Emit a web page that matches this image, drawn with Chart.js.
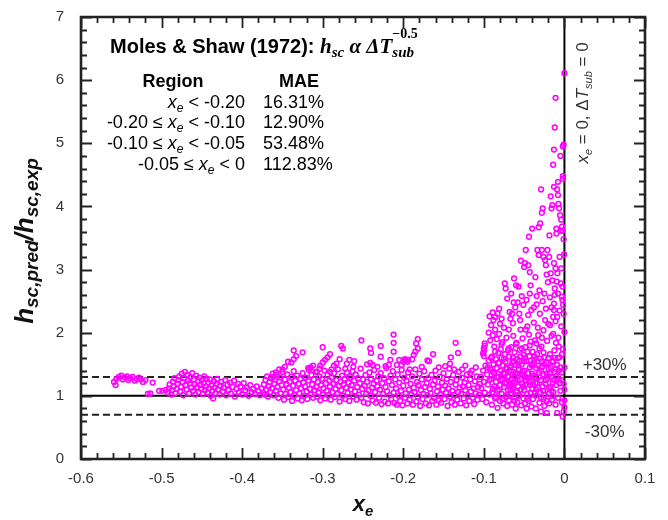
<!DOCTYPE html>
<html>
<head>
<meta charset="utf-8">
<script src="https://cdn.jsdelivr.net/npm/chart.js@4/dist/chart.umd.min.js"></script>
<style>
html,body{margin:0;padding:0;background:#fff;}
#wrap{width:668px;height:520px;}
</style>
</head>
<body>
<div id="wrap"><canvas id="c" width="668" height="520"></canvas></div>
<script>
// ---------- axis ticks ----------
const xTickValues = [-0.6, -0.5, -0.4, -0.3, -0.2, -0.1, 0, 0.1];
const yTickValues = [0, 1, 2, 3, 4, 5, 6, 7];

// ---------- MAE table ----------
const regionLow  = [null, -0.20, -0.10, -0.05];
const regionHigh = [-0.20, -0.10, -0.05, 0];
const regionMAE  = ['16.31%', '12.90%', '53.48%', '112.83%'];

// ---------- reference lines (h_pred/h_exp) ----------
const perfectRatio = 1.0;
const upperBand = 1.3;
const lowerBand = 0.7;
const saturationXe = 0;

// ---------- data points [x_e, h_pred/h_exp] ----------
const farSubcooled = [
[-0.559,1.22],[-0.557,1.17],[-0.556,1.27],[-0.553,1.30],[-0.550,1.32],[-0.548,1.26],[-0.546,1.29],[-0.543,1.31],
[-0.541,1.25],[-0.539,1.28],[-0.536,1.30],[-0.533,1.24],[-0.531,1.27],[-0.528,1.29],[-0.526,1.26],[-0.523,1.22],
[-0.520,1.25],[-0.517,1.03],[-0.514,1.04],[-0.511,1.21],[-0.503,1.08],[-0.499,1.08],[-0.495,1.09]
];
const subcooledA = [
[-0.492,1.05],[-0.491,1.12],[-0.490,1.18],[-0.488,1.02],[-0.487,1.09],[-0.486,1.22],[-0.485,1.15],[-0.484,1.28],
[-0.483,1.04],[-0.481,1.11],[-0.480,1.19],[-0.479,1.25],[-0.478,1.31],[-0.477,1.07],[-0.476,1.14],[-0.475,1.35],
[-0.474,1.22],[-0.473,1.01],[-0.472,1.28],[-0.471,1.38],[-0.470,1.17],[-0.469,1.10],[-0.468,1.33],[-0.467,1.24],
[-0.466,1.04],[-0.465,1.20],[-0.464,1.30],[-0.463,1.13],[-0.462,1.36],[-0.461,1.08],[-0.460,1.26],[-0.459,1.18],
[-0.458,1.02],[-0.457,1.32],[-0.456,1.14],[-0.455,1.23],[-0.454,1.06],[-0.453,1.29],[-0.452,1.17],[-0.451,1.11],
[-0.450,1.25],[-0.449,1.03],[-0.448,1.20],[-0.447,1.31],[-0.446,1.09],[-0.445,1.15],[-0.444,1.27],[-0.443,1.05],
[-0.442,1.21],[-0.441,1.12],[-0.440,1.26],[-0.439,1.00],[-0.438,1.17],[-0.437,1.08],[-0.436,0.96],[-0.435,1.23],
[-0.434,1.13],[-0.433,1.04],[-0.432,1.19],[-0.431,1.27],[-0.430,1.10],[-0.428,1.02],[-0.427,1.16],[-0.426,1.22],
[-0.424,1.07],[-0.423,1.13],[-0.421,1.25],[-0.420,1.01],[-0.418,1.18],[-0.417,1.09],[-0.415,1.21],[-0.414,1.04],
[-0.412,1.14],[-0.410,1.24],[-0.409,0.99],[-0.407,1.11],[-0.405,1.19],[-0.404,1.06],[-0.402,1.15],[-0.400,1.02],
[-0.398,1.20],[-0.396,1.09],[-0.394,1.13],[-0.392,1.00],[-0.390,1.17],[-0.388,1.06],[-0.386,1.11],[-0.384,1.03],
[-0.382,1.15],[-0.380,1.08],[-0.378,1.01],[-0.376,1.12],[-0.374,1.05]
];
const subcooledB = [
[-0.373,1.18],[-0.372,1.02],[-0.371,1.25],[-0.370,1.10],[-0.369,1.31],[-0.368,0.99],[-0.367,1.15],[-0.366,1.22],
[-0.365,1.06],[-0.364,1.28],[-0.363,1.12],[-0.362,1.35],[-0.361,1.01],[-0.360,1.19],[-0.359,1.26],[-0.358,1.08],
[-0.357,1.33],[-0.356,1.14],[-0.355,0.97],[-0.354,1.23],[-0.353,1.29],[-0.352,1.04],[-0.351,1.17],[-0.350,1.38],
[-0.349,1.10],[-0.348,0.94],[-0.347,1.26],[-0.346,1.03],[-0.345,1.18],[-0.344,1.34],[-0.343,0.98],[-0.342,1.13],
[-0.341,1.22],[-0.340,1.06],[-0.339,1.30],[-0.338,0.92],[-0.337,1.16],[-0.336,1.39],[-0.335,1.01],[-0.334,1.24],
[-0.333,1.09],[-0.332,1.32],[-0.331,0.96],[-0.330,1.19],[-0.329,1.04],[-0.328,1.27],[-0.327,1.12],[-0.326,0.93],
[-0.325,1.36],[-0.324,1.21],[-0.323,1.00],[-0.322,1.15],[-0.321,1.29],[-0.320,1.07],[-0.319,0.95],[-0.318,1.24],
[-0.317,1.41],[-0.316,1.11],[-0.315,1.02],[-0.314,1.33],[-0.313,1.18],[-0.312,0.97],[-0.311,1.26],[-0.310,1.09],
[-0.309,1.38],[-0.308,1.14],[-0.307,0.99],[-0.306,1.22],[-0.305,1.05],[-0.304,1.31],[-0.303,0.93],[-0.302,1.17],
[-0.301,1.27],[-0.300,1.02],[-0.299,1.12],[-0.298,1.40],[-0.297,0.96],[-0.296,1.20],[-0.295,1.08],[-0.294,1.33],
[-0.293,1.01],[-0.292,1.24],[-0.291,1.15],[-0.290,0.94],[-0.289,1.29],[-0.288,1.06],[-0.287,1.19],[-0.286,1.36],
[-0.285,0.98],[-0.284,1.11],[-0.283,1.25],[-0.282,1.03],[-0.281,1.42],[-0.280,1.16],[-0.279,0.91],[-0.278,1.22],
[-0.277,1.09],[-0.276,1.32],[-0.275,1.00],[-0.274,1.18],[-0.273,1.27],[-0.272,0.95],[-0.271,1.13],[-0.270,1.37],
[-0.269,1.05],[-0.268,1.21],[-0.267,0.92],[-0.266,1.30],[-0.265,1.10],[-0.264,1.17],[-0.263,1.39],[-0.262,0.99],
[-0.261,1.24],[-0.260,1.07],[-0.259,1.34],[-0.258,0.94],[-0.257,1.14],[-0.256,1.28],[-0.255,1.02],[-0.254,1.20],
[-0.253,1.43],[-0.252,0.97],[-0.251,1.11],[-0.250,1.26]
];
const subcooledC = [
[-0.249,0.90],[-0.248,1.16],[-0.247,1.33],[-0.246,1.04],[-0.245,1.22],[-0.244,0.88],[-0.243,1.09],[-0.242,1.37],
[-0.241,1.00],[-0.240,1.27],[-0.239,1.13],[-0.238,0.93],[-0.237,1.19],[-0.236,1.41],[-0.235,1.06],[-0.234,0.89],
[-0.233,1.24],[-0.232,1.15],[-0.231,1.31],[-0.230,0.97],[-0.229,1.10],[-0.228,1.36],[-0.227,0.87],[-0.226,1.20],
[-0.225,1.03],[-0.224,1.28],[-0.223,0.91],[-0.222,1.14],[-0.221,1.44],[-0.220,1.07],[-0.219,0.88],[-0.218,1.23],
[-0.217,1.01],[-0.216,1.32],[-0.215,0.95],[-0.214,1.17],[-0.213,1.39],[-0.212,1.05],[-0.211,0.89],[-0.210,1.26],
[-0.209,1.12],[-0.208,0.86],[-0.207,1.34],[-0.206,1.00],[-0.205,1.21],[-0.204,0.92],[-0.203,1.08],[-0.202,1.41],
[-0.201,0.85],[-0.200,1.16],[-0.199,1.29],[-0.198,0.97],[-0.197,1.04],[-0.196,1.24],[-0.195,0.88],[-0.194,1.37],
[-0.193,1.10],[-0.192,0.94],[-0.191,1.19],[-0.190,1.02],[-0.189,1.31],[-0.188,0.86],[-0.187,1.13],[-0.186,1.06],
[-0.185,1.42],[-0.184,0.91],[-0.183,1.22],[-0.182,0.99],[-0.181,1.17],[-0.180,1.35],[-0.179,0.84],[-0.178,1.09],
[-0.177,1.26],[-0.176,0.95],[-0.175,1.03],[-0.174,1.39],[-0.173,1.14],[-0.172,0.88],[-0.171,1.20],[-0.170,1.01],
[-0.169,1.28],[-0.168,0.85],[-0.167,1.11],[-0.166,1.04],[-0.165,1.33],[-0.164,0.92],[-0.163,1.18],[-0.162,0.97],
[-0.161,1.24],[-0.160,1.40],[-0.159,0.86],[-0.158,1.07],[-0.157,1.15],[-0.156,0.93],[-0.155,1.30],[-0.154,1.02],
[-0.153,0.89],[-0.152,1.21],[-0.151,1.10],[-0.150,1.36],[-0.149,0.95],[-0.148,1.16],[-0.147,1.05],[-0.146,1.27],
[-0.145,0.84],[-0.144,1.12],[-0.143,1.43],[-0.142,0.99],[-0.141,1.22],[-0.140,0.90],[-0.139,1.08],[-0.138,1.33],
[-0.137,1.01],[-0.136,0.86],[-0.135,1.18],[-0.134,1.25],[-0.133,0.94],[-0.132,1.06],[-0.131,1.38],[-0.130,1.13],
[-0.129,0.88],[-0.128,1.03],[-0.127,1.29],[-0.126,1.15],[-0.125,0.96],[-0.124,1.21],[-0.123,1.09],[-0.122,0.85],
[-0.121,1.34],[-0.120,1.00],[-0.119,1.17],[-0.118,0.92],[-0.117,1.26],[-0.116,1.07],[-0.115,1.40],[-0.114,0.97],
[-0.113,1.12],[-0.112,0.87],[-0.111,1.23],[-0.110,1.04],[-0.109,1.31],[-0.108,0.94],[-0.107,1.14],[-0.106,1.02],
[-0.105,1.19]
];
const subcooledHigh = [
[-0.361,1.30],[-0.358,1.37],[-0.354,1.42],[-0.350,1.42],[-0.347,1.46],[-0.343,1.54],[-0.339,1.53],[-0.336,1.58],
[-0.333,1.63],[-0.336,1.72],[-0.325,1.69],[-0.307,1.38],[-0.304,1.43],[-0.303,1.48],[-0.300,1.53],[-0.297,1.57],
[-0.294,1.61],[-0.291,1.66],[-0.300,1.77],[-0.291,1.38],[-0.289,1.42],[-0.286,1.48],[-0.283,1.51],[-0.279,1.58],
[-0.277,1.79],[-0.275,1.75],[-0.272,1.43],[-0.270,1.51],[-0.267,1.57],[-0.261,1.55],[-0.315,1.45],[-0.312,1.48],
[-0.318,1.44],[-0.252,1.88],[-0.245,1.50],[-0.241,1.52],[-0.241,1.75],[-0.240,1.68],[-0.238,1.49],[-0.228,1.79],
[-0.228,1.62],[-0.218,1.49],[-0.216,1.57],[-0.212,1.97],[-0.212,1.84],[-0.212,1.70],[-0.208,1.49],[-0.205,1.57],
[-0.202,1.49],[-0.200,1.54],[-0.198,1.58],[-0.197,1.56],[-0.195,1.54],[-0.194,1.57],[-0.192,1.42],[-0.189,1.58],
[-0.187,1.65],[-0.185,1.70],[-0.182,1.75],[-0.184,1.83],[-0.182,1.90],[-0.170,1.56],[-0.168,1.55],[-0.163,1.66],
[-0.142,1.51],[-0.141,1.61],[-0.137,1.42],[-0.135,1.84],[-0.132,1.68],[-0.127,1.42],[-0.117,1.36],[-0.222,1.47],
[-0.232,1.46],[-0.262,1.46],[-0.156,1.45],[-0.148,1.47],[-0.177,1.46],[-0.110,1.45],[-0.123,1.48]
];
const nearSatA = [
[-0.104,1.30],[-0.103,1.12],[-0.102,0.95],[-0.101,1.40],[-0.101,1.67],[-0.100,1.63],[-0.100,1.71],[-0.100,1.75],
[-0.099,1.79],[-0.099,1.83],[-0.100,1.22],[-0.099,1.05],[-0.098,1.48],[-0.097,0.90],[-0.096,1.34],[-0.095,1.18],
[-0.094,1.56],[-0.094,2.00],[-0.093,1.02],[-0.093,2.26],[-0.092,1.42],[-0.092,1.88],[-0.091,1.27],[-0.091,2.12],
[-0.090,0.86],[-0.090,1.62],[-0.089,1.96],[-0.089,1.11],[-0.088,1.50],[-0.088,2.20],[-0.087,1.36],[-0.087,1.78],
[-0.086,0.96],[-0.086,2.05],[-0.085,1.22],[-0.085,1.58],[-0.084,1.44],[-0.084,1.90],[-0.083,0.81],[-0.083,1.08],
[-0.083,2.30],[-0.082,1.68],[-0.082,1.30],[-0.081,1.52],[-0.081,1.98],[-0.080,0.92],[-0.080,1.17],[-0.080,2.14],
[-0.079,1.40],[-0.079,1.74],[-0.078,1.03],[-0.078,1.60],[-0.077,1.26],[-0.077,1.85],[-0.076,0.88],[-0.076,1.48],
[-0.075,2.08],[-0.075,1.14],[-0.074,1.35],[-0.074,1.66],[-0.073,0.99],[-0.073,1.54],[-0.072,1.21],[-0.072,1.92],
[-0.071,1.43],[-0.071,0.84],[-0.070,1.72],[-0.070,1.09]
];
const nearSatB = [
[-0.0695,1.31],[-0.069,0.93],[-0.0685,1.62],[-0.068,1.18],[-0.0675,1.45],[-0.067,2.22],[-0.0665,1.02],[-0.066,1.77],
[-0.0655,1.27],[-0.065,0.86],[-0.0645,1.54],[-0.064,1.12],[-0.0635,1.95],[-0.063,1.38],[-0.0625,0.98],[-0.062,1.69],
[-0.0615,1.22],[-0.061,2.40],[-0.0605,1.49],[-0.060,1.06],[-0.071,2.54],[-0.074,2.78],[-0.073,2.70],[-0.0625,2.86],
[-0.060,2.75],[-0.066,2.62],[-0.068,2.33],[-0.064,2.15],
[-0.0595,1.84],[-0.059,1.35],[-0.0585,0.90],[-0.058,1.58],[-0.0575,1.15],[-0.057,2.73],[-0.0565,1.42],[-0.056,1.01],
[-0.0555,1.73],[-0.055,1.26],[-0.0545,2.05],[-0.054,3.14],[-0.0535,0.85],[-0.053,1.50],[-0.0525,1.19],[-0.052,1.91],
[-0.0515,1.33],[-0.051,0.96],[-0.0505,1.65],[-0.050,1.09],[-0.050,3.04],[-0.049,3.10],[-0.058,2.48],[-0.056,2.30],
[-0.053,2.58],[-0.051,2.44],[-0.055,2.20],
[-0.0495,1.40],[-0.049,0.88],[-0.0485,1.77],[-0.048,3.31],[-0.0475,1.24],[-0.047,1.55],[-0.0465,1.03],[-0.046,2.10],
[-0.0455,1.36],[-0.045,3.07],[-0.0445,0.92],[-0.044,3.52],[-0.0435,1.63],[-0.043,2.96],[-0.0425,1.17],[-0.042,1.86],
[-0.0415,1.29],[-0.041,0.83],[-0.0405,1.48],[-0.040,3.65],[-0.040,1.11],[-0.041,2.36],[-0.043,2.62],[-0.047,2.52],
[-0.045,2.28],[-0.042,2.75],[-0.048,2.05],[-0.044,1.97]
];
const nearSatC = [
[-0.0395,1.70],[-0.039,0.95],[-0.0385,1.32],[-0.038,2.16],[-0.0375,1.57],[-0.037,1.05],[-0.0365,1.88],[-0.036,1.21],
[-0.0355,0.80],[-0.035,1.44],[-0.0345,2.45],[-0.034,1.66],[-0.0335,3.31],[-0.033,1.13],[-0.0325,1.96],[-0.032,3.23],
[-0.032,3.67],[-0.0315,1.37],[-0.031,0.89],[-0.030,3.73],[-0.030,1.59],[-0.0305,2.30],[-0.031,2.67],[-0.036,2.88],
[-0.0345,2.58],[-0.038,2.40],[-0.033,2.08],[-0.035,1.83],
[-0.0295,1.25],[-0.029,0.97],[-0.029,4.27],[-0.0285,1.78],[-0.028,3.31],[-0.028,3.90],[-0.0275,1.46],[-0.027,3.97],
[-0.0265,1.08],[-0.026,3.20],[-0.026,2.04],[-0.0255,1.34],[-0.025,0.84],[-0.025,2.62],[-0.0245,1.61],[-0.024,3.15],
[-0.0235,1.19],[-0.023,3.07],[-0.023,2.38],[-0.0225,1.52],[-0.022,0.92],[-0.0215,1.87],[-0.021,3.31],[-0.021,1.28],
[-0.0205,2.80],[-0.020,1.03],[-0.027,2.50],[-0.024,2.20],[-0.022,2.92],[-0.028,1.92],[-0.026,1.69],[-0.020,2.14]
];
const nearSatD = [
[-0.0195,1.43],[-0.019,3.20],[-0.019,0.88],[-0.0186,3.54],[-0.018,1.66],[-0.018,2.56],[-0.0175,1.14],[-0.017,4.16],
[-0.017,2.94],[-0.0165,1.31],[-0.016,3.97],[-0.016,1.95],[-0.0155,0.94],[-0.015,4.02],[-0.015,2.83],[-0.015,1.54],
[-0.0145,1.21],[-0.014,4.66],[-0.014,2.25],[-0.0135,1.06],[-0.013,4.31],[-0.013,4.90],[-0.013,3.10],[-0.013,2.46],
[-0.013,2.36],[-0.0125,1.72],[-0.012,5.25],[-0.012,2.70],[-0.012,2.60],[-0.012,1.38],[-0.011,5.72],[-0.011,3.02],
[-0.011,0.86],[-0.0105,1.84],[-0.010,3.65],[-0.010,3.57],[-0.010,1.17],[-0.018,2.12],[-0.016,2.40],[-0.014,1.98],
[-0.011,2.18],
[-0.0095,2.81],[-0.009,4.27],[-0.009,1.49],[-0.0087,2.94],[-0.008,4.39],[-0.008,4.18],[-0.008,0.97],[-0.0075,4.04],
[-0.0075,1.92],[-0.007,1.26],[-0.0066,3.97],[-0.006,2.35],[-0.006,1.61],[-0.0054,3.86],[-0.005,4.80],[-0.005,1.08],
[-0.0046,3.61],[-0.0046,2.78],[-0.004,3.79],[-0.004,2.10],[-0.004,1.37],[-0.003,3.68],[-0.003,2.57],[-0.003,0.90],
[-0.0025,3.62],[-0.0025,2.73],[-0.0025,2.52],[-0.002,4.48],[-0.002,4.44],[-0.002,4.95],[-0.002,1.74],[-0.0017,2.44],
[-0.001,4.98],[-0.001,1.19],[-0.0004,3.24],[0.000,6.11],[0.000,2.01],[0.000,1.45],[0.000,1.10],[0.000,0.93],
[0.000,0.82],[-0.001,0.75],[-0.002,0.67],[-0.008,2.62],[-0.006,3.20],[-0.004,3.02],[-0.007,1.78],[-0.009,2.25],
[-0.001,2.30],[-0.001,3.48]
];
const nearSatCore = [
[-0.068,1.40],[-0.066,1.15],[-0.064,1.60],[-0.062,1.30],[-0.059,1.08],[-0.057,1.48],[-0.055,1.62],[-0.054,1.10],
[-0.052,1.39],[-0.050,1.55],[-0.048,1.18],[-0.046,1.70],[-0.045,1.28],[-0.043,1.45],[-0.042,1.05],[-0.040,1.35],
[-0.038,1.52],[-0.037,1.30],[-0.034,1.20],[-0.033,1.48],[-0.031,1.75],[-0.029,1.40],[-0.027,1.15],[-0.025,1.50],
[-0.024,1.02],[-0.022,1.35],[-0.020,1.60],[-0.019,1.12],[-0.017,1.45],[-0.016,1.08],[-0.014,1.55],[-0.013,1.25],
[-0.011,1.42],[-0.010,1.30],[-0.008,1.60],[-0.006,1.20],[-0.005,1.45],[-0.003,1.66],[-0.029,0.75],[-0.022,0.73],
[-0.009,0.73],[-0.0605,0.80],[-0.047,0.80],[-0.036,1.00],[-0.026,0.95],
[-0.095,1.45],[-0.093,1.25],[-0.091,1.60],[-0.090,1.05],[-0.089,1.38],[-0.087,1.15],[-0.086,1.70],[-0.085,0.98],
[-0.084,1.30],[-0.082,1.52],[-0.081,1.10],[-0.079,1.25],[-0.078,1.82],[-0.077,0.95],[-0.076,1.36],[-0.075,1.58],
[-0.074,1.20],[-0.072,1.45],[-0.071,1.02],[-0.070,1.30],[-0.069,1.75],[-0.067,1.10],[-0.066,1.48],[-0.065,1.20],
[-0.063,1.55],[-0.062,0.92],[-0.061,1.36],[-0.060,1.82],[-0.058,1.25],[-0.057,1.00],[-0.056,1.55],[-0.054,1.35],
[-0.053,1.75],[-0.051,1.15],[-0.049,1.60],[-0.048,1.30],[-0.046,0.95],[-0.044,1.22],[-0.043,1.80],[-0.041,1.50],
[-0.039,1.18],[-0.037,1.62],[-0.035,1.10],[-0.032,1.30],[-0.030,1.05],[-0.028,1.55],[-0.023,1.25],[-0.018,1.35],
[-0.015,1.00],[-0.012,1.60],[-0.007,1.40],[-0.004,1.25],
[-0.089,2.32],[-0.086,2.25],[-0.081,2.38],[-0.078,2.22],[-0.069,2.05],[-0.065,2.30],[-0.063,2.48]
];

const allGroups = [farSubcooled, subcooledA, subcooledB, subcooledC, subcooledHigh, nearSatA, nearSatB, nearSatC, nearSatD, nearSatCore];
const scatterData = allGroups.flat().map(([x, y]) => ({x, y}));

const SANS = '"Liberation Sans", Arial, Helvetica, sans-serif';
const SERIF = '"Liberation Serif", "Times New Roman", serif';

function layoutParts(ctx, parts) {
  let x = 0, prevStart = 0;
  const items = [];
  for (const p of parts) {
    ctx.font = p.f;
    const w = ctx.measureText(p.t).width;
    const sx = p.stack ? prevStart : x;
    items.push({t: p.t, f: p.f, dy: p.dy || 0, x: sx});
    x = p.stack ? Math.max(x, sx + w) : sx + w;
    prevStart = sx;
  }
  return {items, width: x};
}
function drawRich(ctx, x0, y0, parts, align, color) {
  const L = layoutParts(ctx, parts);
  const off = align === 'right' ? -L.width : (align === 'center' ? -L.width / 2 : 0);
  ctx.fillStyle = color;
  ctx.textAlign = 'left';
  ctx.textBaseline = 'alphabetic';
  for (const it of L.items) {
    ctx.font = it.f;
    ctx.fillText(it.t, x0 + off + it.x, y0 + it.dy);
  }
}
function fmtBound(v) { return v === 0 ? '0' : v.toFixed(2); }

const framePlugin = {
  id: 'frame',
  afterDraw(chart) {
    const ctx = chart.ctx;
    const a = chart.chartArea;
    const xs = chart.scales.x, ys = chart.scales.y;
    ctx.save();
    ctx.setLineDash([]);
    ctx.globalAlpha = 1;
    ctx.globalCompositeOperation = 'source-over';
    ctx.strokeStyle = '#222222';
    ctx.lineWidth = 1.8;
    ctx.beginPath();
    for (let i = 0; i <= 35; i++) {
      const px = Math.round(xs.getPixelForValue(-0.6 + i * 0.02)) + 0.5;
      const len = (i % 5 === 0) ? 11 : 6;
      ctx.moveTo(px, a.bottom); ctx.lineTo(px, a.bottom - len);
      ctx.moveTo(px, a.top); ctx.lineTo(px, a.top + len);
    }
    for (let i = 0; i <= 35; i++) {
      const py = Math.round(ys.getPixelForValue(i * 0.2)) + 0.5;
      const len = (i % 5 === 0) ? 11 : 6;
      ctx.moveTo(a.left, py); ctx.lineTo(a.left + len, py);
      ctx.moveTo(a.right, py); ctx.lineTo(a.right - len, py);
    }
    ctx.stroke();
    ctx.beginPath();
    ctx.lineWidth = 2.6;
    ctx.rect(a.left, a.top, a.right - a.left, a.bottom - a.top);
    ctx.stroke();
    ctx.restore();
  }
};

const textPlugin = {
  id: 'texts',
  afterDraw(chart) {
    const ctx = chart.ctx;
    const a = chart.chartArea;
    const xs = chart.scales.x, ys = chart.scales.y;
    ctx.save();
    // title
    drawRich(ctx, a.left + 29, a.top + 36, [
      {t: 'Moles & Shaw (1972): ', f: 'bold 20px ' + SANS},
      {t: 'h', f: 'italic bold 21px ' + SERIF},
      {t: 'sc', f: 'italic bold 15px ' + SERIF, dy: 4},
      {t: ' α Δ', f: 'italic bold 21px ' + SERIF},
      {t: 'T', f: 'italic bold 21px ' + SERIF},
      {t: 'sub', f: 'italic bold 15px ' + SERIF, dy: 4},
      {t: '−0.5', f: 'bold 14px ' + SERIF, dy: -15, stack: true}
    ], 'left', '#000');

    // table
    const hdrY = a.top + 70;
    drawRich(ctx, a.left + 92, hdrY, [{t: 'Region', f: 'bold 18px ' + SANS}], 'center', '#000');
    drawRich(ctx, a.left + 218, hdrY, [{t: 'MAE', f: 'bold 18px ' + SANS}], 'center', '#000');
    const f18 = '18px ' + SANS, i18 = 'italic 18px ' + SANS, i12 = 'italic 12px ' + SANS;
    for (let i = 0; i < regionMAE.length; i++) {
      const by = hdrY + 20.7 * (i + 1);
      const parts = [];
      if (regionLow[i] !== null) parts.push({t: fmtBound(regionLow[i]) + ' ≤ ', f: f18});
      parts.push({t: 'x', f: i18});
      parts.push({t: 'e', f: i12, dy: 4});
      parts.push({t: ' < ' + fmtBound(regionHigh[i]), f: f18});
      drawRich(ctx, a.left + 164, by, parts, 'right', '#000');
      drawRich(ctx, a.left + 182, by, [{t: regionMAE[i], f: f18}], 'left', '#000');
    }

    // band labels
    const bx = xs.getPixelForValue(0.05);
    drawRich(ctx, bx, ys.getPixelForValue(upperBand) - 7, [{t: '+30%', f: '17px ' + SANS}], 'center', '#333');
    drawRich(ctx, bx, ys.getPixelForValue(lowerBand) + 22, [{t: '-30%', f: '17px ' + SANS}], 'center', '#333');

    // vertical annotation at x_e = 0
    ctx.save();
    ctx.translate(xs.getPixelForValue(saturationXe) + 24, a.top + 86);
    ctx.rotate(-Math.PI / 2);
    drawRich(ctx, 0, 0, [
      {t: 'x', f: 'italic 17px ' + SANS},
      {t: 'e', f: 'italic 11px ' + SANS, dy: 4},
      {t: ' = 0, Δ', f: '17px ' + SANS},
      {t: 'T', f: 'italic 17px ' + SANS},
      {t: 'sub', f: 'italic 11px ' + SANS, dy: 4},
      {t: ' = 0', f: '17px ' + SANS}
    ], 'center', '#333');
    ctx.restore();

    // axis titles
    drawRich(ctx, (a.left + a.right) / 2, a.bottom + 52, [
      {t: 'x', f: 'italic bold 22px ' + SANS},
      {t: 'e', f: 'italic bold 15px ' + SANS, dy: 5}
    ], 'center', '#111');
    ctx.save();
    ctx.translate(33, (a.top + a.bottom) / 2 + 3);
    ctx.rotate(-Math.PI / 2);
    drawRich(ctx, 0, 0, [
      {t: 'h', f: 'italic bold 26px ' + SANS},
      {t: 'sc,pred', f: 'italic bold 19px ' + SANS, dy: 5},
      {t: '/', f: 'italic bold 26px ' + SANS},
      {t: 'h', f: 'italic bold 26px ' + SANS},
      {t: 'sc,exp', f: 'italic bold 19px ' + SANS, dy: 5}
    ], 'center', '#111');
    ctx.restore();
    ctx.restore();
  }
};

new Chart(document.getElementById('c'), {
  type: 'scatter',
  data: {
    datasets: [
      {
        data: scatterData,
        pointStyle: 'circle',
        pointRadius: 2.4,
        pointBorderWidth: 1.5,
        borderColor: '#ff00ff',
        backgroundColor: 'rgba(255,255,255,0)',
        order: 0
      },
      {
        data: [{x: -0.6, y: perfectRatio}, {x: 0.1, y: perfectRatio}],
        showLine: true, pointRadius: 0, borderColor: '#000', borderWidth: 2, order: 1
      },
      {
        data: [{x: -0.6, y: upperBand}, {x: 0.1, y: upperBand}],
        showLine: true, pointRadius: 0, borderColor: '#222', borderWidth: 2, borderDash: [7, 4], order: 1
      },
      {
        data: [{x: -0.6, y: lowerBand}, {x: 0.1, y: lowerBand}],
        showLine: true, pointRadius: 0, borderColor: '#222', borderWidth: 2, borderDash: [7, 4], order: 1
      },
      {
        data: [{x: saturationXe, y: 0}, {x: saturationXe, y: 7}],
        showLine: true, pointRadius: 0, borderColor: '#000', borderWidth: 2, order: 1
      }
    ]
  },
  options: {
    responsive: false,
    animation: false,
    devicePixelRatio: 1,
    layout: {padding: {top: 17, right: 23, left: 0, bottom: 0}},
    plugins: {legend: {display: false}, tooltip: {enabled: false}},
    scales: {
      x: {
        type: 'linear', min: -0.6, max: 0.1,
        grid: {display: false, drawTicks: false},
        border: {display: false},
        afterBuildTicks: (s) => { s.ticks = xTickValues.map(v => ({value: v})); },
        afterFit: (s) => { s.height = 61; s.paddingLeft = 0; s.paddingRight = 0; },
        ticks: {
          autoSkip: false, maxRotation: 0, padding: 11,
          color: '#333', font: {family: SANS, size: 15},
          callback: (v) => (Math.abs(v) < 1e-9 ? '0' : Number(v).toFixed(1))
        }
      },
      y: {
        type: 'linear', min: 0, max: 7,
        grid: {display: false, drawTicks: false},
        border: {display: false},
        afterBuildTicks: (s) => { s.ticks = yTickValues.map(v => ({value: v})); },
        afterFit: (s) => { s.width = 81; s.paddingTop = 0; s.paddingBottom = 0; },
        ticks: {
          padding: 17, color: '#333', font: {family: SANS, size: 15},
          callback: (v) => String(v)
        }
      }
    }
  },
  plugins: [framePlugin, textPlugin]
});
</script>
</body>
</html>
